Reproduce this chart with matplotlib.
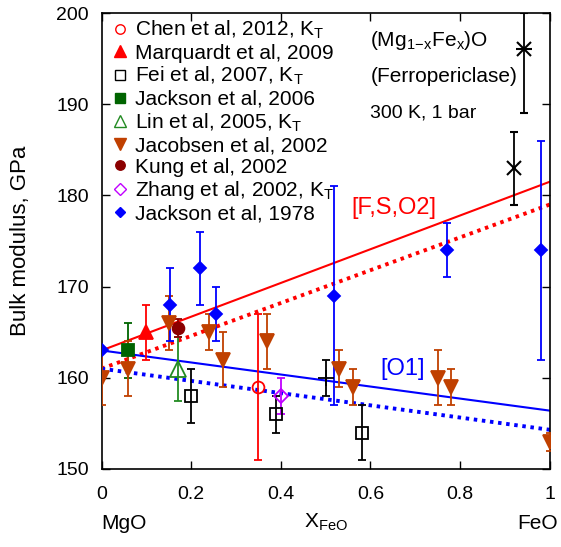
import numpy as np
import matplotlib
matplotlib.use("Agg")
import matplotlib.pyplot as plt
from matplotlib.lines import Line2D

plt.rcParams['font.family'] = ['Liberation Sans', 'DejaVu Sans']
plt.rcParams['mathtext.fontset'] = 'custom'
plt.rcParams['mathtext.rm'] = 'Liberation Sans'
plt.rcParams['mathtext.it'] = 'Liberation Sans:italic'

# datos: x = X_FeO, y = K (GPa), err = barra de error
chen_x, chen_y, chen_err = [0.35], [159], [8]
marq_x, marq_y, marq_err = [0.10], [165], [3]
fei_x, fei_y, fei_err = [0.20, 0.39, 0.58], [158, 156, 154], [3, 2, 3]
jack06_x, jack06_y, jack06_err = [0.06], [163], [3]
lin_x, lin_y, lin_err = [0.17], [161], [3.5]
jacob_x = [0.0, 0.06, 0.15, 0.24, 0.27, 0.37, 0.53, 0.56, 0.75, 0.78, 1.0]
jacob_y = [160, 161, 166, 165, 162, 164, 161, 159, 160, 159, 153]
jacob_err = [3, 3, 3, 2, 3, 3, 2, 2, 3, 2, 1]
kung_x, kung_y, kung_err = [0.17], [165.5], [1]
zhang_x, zhang_y, zhang_err = [0.40], [158], [2]
jack78_x = [0.0, 0.153, 0.22, 0.255, 0.518, 0.77, 0.981]
jack78_y = [163, 168, 172, 167, 169, 174, 174]
jack78_err = [0, 4, 4, 3, 12, 3, 12]
# puntos negros sin leyenda
plus_x, plus_y, plus_err = [0.50], [160], [2]
cross_x, cross_y, cross_err = [0.92], [183], [4]
star_x, star_y, star_lo, star_hi = [0.942], [196], [7], [4]

# ajustes lineales
fit_x = [0, 1]
fso2_solid = [163, 181.5]
fso2_dot = [161, 179]
o1_solid = [163, 156.4]
o1_dot = [161, 154.3]

legend_labels = ["Chen et al, 2012, K$_\\mathrm{T}$", "Marquardt et al, 2009",
                 "Fei et al, 2007, K$_\\mathrm{T}$", "Jackson et al, 2006",
                 "Lin et al, 2005, K$_\\mathrm{T}$", "Jacobsen et al, 2002",
                 "Kung et al, 2002", "Zhang et al, 2002, K$_\\mathrm{T}$",
                 "Jackson et al, 1978"]

red = '#ff0000'
dgreen = '#006400'
lgreen = '#228b22'
orange = '#c04000'
dred = '#8b0000'
violet = '#c000ff'
blue = '#0000ff'

fig = plt.figure(figsize=(5.61, 5.47), dpi=100)
ax = fig.add_axes([0.181, 0.1426, 0.799, 0.8336])

ax.plot(fit_x, fso2_solid, color=red, lw=1.5, zorder=2)
ax.plot(fit_x, fso2_dot, color=red, lw=2.8, ls=(0, (0.9, 1.2)), zorder=2)
ax.plot(fit_x, o1_solid, color=blue, lw=1.5, zorder=2)
ax.plot(fit_x, o1_dot, color=blue, lw=2.8, ls=(0, (0.9, 1.2)), zorder=2)

eb = dict(capsize=3, elinewidth=1.3, capthick=1.3, ls='none', zorder=3)

series = [
    (chen_x, chen_y, chen_err, 'o', red, 'none', 8.5),
    (marq_x, marq_y, marq_err, '^', red, red, 10),
    (fei_x, fei_y, fei_err, 's', 'black', 'none', 8.5),
    (jack06_x, jack06_y, jack06_err, 's', dgreen, dgreen, 8.5),
    (lin_x, lin_y, lin_err, '^', lgreen, 'none', 11),
    (jacob_x, jacob_y, jacob_err, 'v', orange, orange, 10),
    (kung_x, kung_y, kung_err, 'o', dred, dred, 8.5),
    (zhang_x, zhang_y, zhang_err, 'D', violet, 'none', 7.5),
    (jack78_x, jack78_y, jack78_err, 'D', blue, blue, 6.5),
]

handles = []
for (xs, ys, es, m, c, fc, ms), lab in zip(series, legend_labels):
    ax.errorbar(xs, ys, yerr=es, marker=m, color=c, mfc=fc, mec=c, ms=ms, mew=1.3, **eb)
    handles.append(Line2D([], [], ls='none', marker=m, color=c, mfc=fc, mec=c,
                          ms=ms * 0.8, mew=1.0, label=lab))

ax.errorbar(plus_x, plus_y, yerr=plus_err, marker='+', color='black', ms=12, mew=1.3, **eb)
ax.errorbar(cross_x, cross_y, yerr=cross_err, marker='x', color='black', ms=10, mew=1.5, **eb)
ax.errorbar(star_x, star_y, yerr=[star_lo, star_hi], marker='x', color='black', ms=10, mew=1.5, **eb)
ax.plot(star_x, star_y, marker='_', color='black', ms=12, mew=1.5, ls='none', zorder=3)

ax.legend(handles=handles, loc='upper left', bbox_to_anchor=(-0.005, 1.01),
          frameon=False, fontsize=15, handlelength=1.0, handletextpad=0.2,
          labelspacing=0.12, borderaxespad=0.3, borderpad=0.2)

ax.text(0.60, 197, "(Mg$_{\\mathrm{1\\!-\\!x}}$Fe$_\\mathrm{x}$)O", fontsize=15, va='center')
ax.text(0.60, 193, "(Ferropericlase)", fontsize=15, va='center')
ax.text(0.60, 189, "300 K, 1 bar", fontsize=14, va='center')
ax.text(0.652, 178.6, "[F,S,O2]", fontsize=17, color=red, ha='center', va='center')
ax.text(0.671, 161.0, "[O1]", fontsize=17, color=blue, ha='center', va='center')

ax.set_xlim(0, 1)
ax.set_ylim(150, 200)
ax.set_xticks(np.arange(0, 1.01, 0.2))
ax.set_xticklabels(['0', '0.2', '0.4', '0.6', '0.8', '1'])
ax.set_yticks(np.arange(150, 201, 10))
ax.tick_params(direction='in', top=True, right=True, length=5.5, width=1,
               labelsize=14)
ax.tick_params(axis='x', pad=12)
ax.tick_params(axis='y', pad=9)
for s in ax.spines.values():
    s.set_linewidth(1.2)

ax.set_ylabel("Bulk modulus, GPa", fontsize=16, labelpad=18)
ax.text(0.5, -0.118, "X$_\\mathrm{FeO}$", transform=ax.transAxes, fontsize=15,
        ha='center', va='center')
ax.text(0.0, -0.12, "MgO", transform=ax.transAxes, fontsize=15, ha='left', va='center')
ax.text(1.018, -0.12, "FeO", transform=ax.transAxes, fontsize=15, ha='right', va='center')

fig.savefig("out.png", dpi=100)
